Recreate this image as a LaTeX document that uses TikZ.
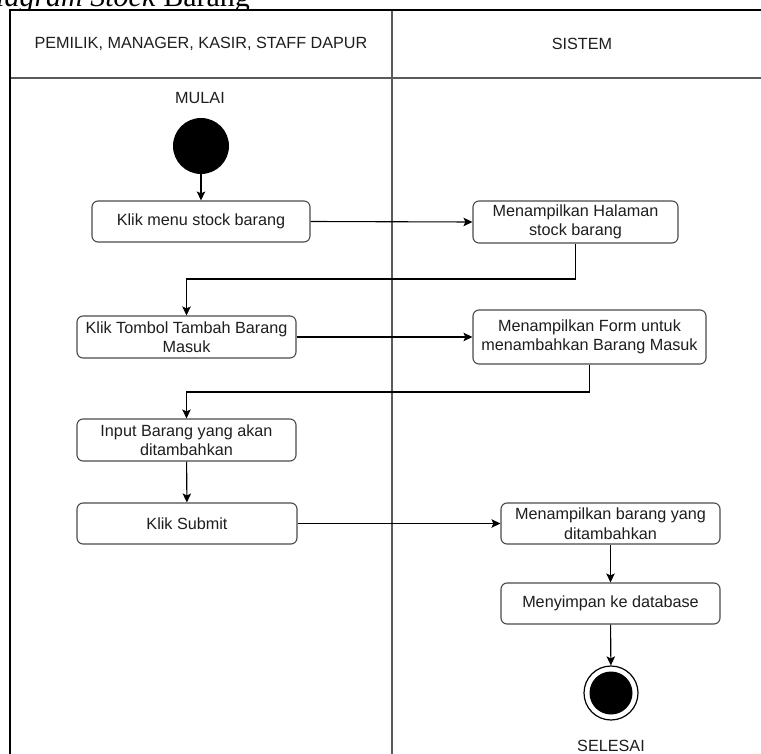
\documentclass[tikz,border=0pt]{standalone}
\usepackage{fontspec}
\setmainfont{Liberation Sans}
\newfontfamily\capserif{Liberation Serif}
\usetikzlibrary{arrows.meta}
\definecolor{boxline}{HTML}{4A4A4A}
\definecolor{txt}{HTML}{1E1E1E}
\definecolor{laneline}{HTML}{5A5A5A}
\tikzset{
  actbox/.style={draw=boxline, line width=1.1pt, rounded corners=6pt, fill=white,
    inner sep=0pt, align=center, text=txt, font=\fontsize{16.2}{19.5}\selectfont},
  lanetext/.style={text=txt, font=\fontsize{16.2}{19.5}\selectfont},
  arr/.style={draw=black, line width=1.1pt, -{Stealth[length=9pt,width=8.5pt,inset=2pt]}},
  lanestroke/.style={draw=laneline, line width=1.4pt},
}
\begin{document}
\begin{tikzpicture}[x=1pt,y=-1pt]
\useasboundingbox (0,0) rectangle (761,754);
\clip (0,0) rectangle (761,754);
% caption fragment behind the diagram (cut off at the top as in the reference)
\node[anchor=base west, inner sep=0pt, font=\capserif\fontsize{30}{30}\selectfont] (cap) at (-4,7) {\textit{iagram Stock} Barang};
\fill[white] (10,10) rectangle (761,754);
% swimlanes
\draw[lanestroke] (10,78) -- (761,78);
\draw[lanestroke] (392,10) -- (392,754);
\draw[black, line width=1.5pt] (10,754) -- (10,10) -- (761,10);
\node[lanetext] (lane1) at (201,44) {PEMILIK, MANAGER, KASIR, STAFF DAPUR};
\node[lanetext] (lane2) at (582,44) {SISTEM};
% start
\node[lanetext] (mulai) at (200,98) {MULAI};
\node[circle, fill=black, minimum size=56pt, inner sep=0pt] (start) at (201,146) {};
% activities
\node[actbox, minimum width=218pt, minimum height=41pt] (k1) at (201,221.5) {Klik menu stock barang};
\node[actbox, minimum width=205pt, minimum height=42pt] (s1) at (575.5,222) {Menampilkan Halaman\\stock barang};
\node[actbox, minimum width=219pt, minimum height=42pt] (k2) at (186.5,337) {Klik Tombol Tambah Barang\\Masuk};
\node[actbox, minimum width=233pt, minimum height=54pt] (s2) at (589.5,337) {Menampilkan Form untuk\\menambahkan Barang Masuk};
\node[actbox, minimum width=219pt, minimum height=42pt] (k3) at (186.5,440) {Input Barang yang akan\\ditambahkan};
\node[actbox, minimum width=220pt, minimum height=41pt] (k4) at (187,523.5) {Klik Submit};
\node[actbox, minimum width=219pt, minimum height=41pt] (s3) at (610.5,523.5) {Menampilkan barang yang\\ditambahkan};
\node[actbox, minimum width=219pt, minimum height=41pt] (s4) at (610.5,603.5) {Menyimpan ke database};
% end
\node[circle, draw=black, line width=1.2pt, fill=white, minimum size=54pt, inner sep=0pt] (end) at (611,693) {};
\node[circle, fill=black, minimum size=43pt, inner sep=0pt] (endin) at (end.center) {};
\node[lanetext] (selesai) at (611,746) {SELESAI};
% connectors
\coordinate (c1) at (186.5,279);
\coordinate (c2) at (186.5,392);
\draw[arr] (start) -- (k1);
\draw[arr] (k1.east) -- (s1.west);
\draw[arr] (s1.south) |- (c1) -- (k2.north);
\draw[arr] (k2.east) -- (s2.west);
\draw[arr] (s2.south) |- (c2) -- (k3.north);
\draw[arr] (k3) -- (k4);
\draw[arr] (k4.east) -- (s3.west);
\draw[arr] (s3) -- (s4);
\draw[arr] (s4) -- (end);
\end{tikzpicture}
\end{document}
